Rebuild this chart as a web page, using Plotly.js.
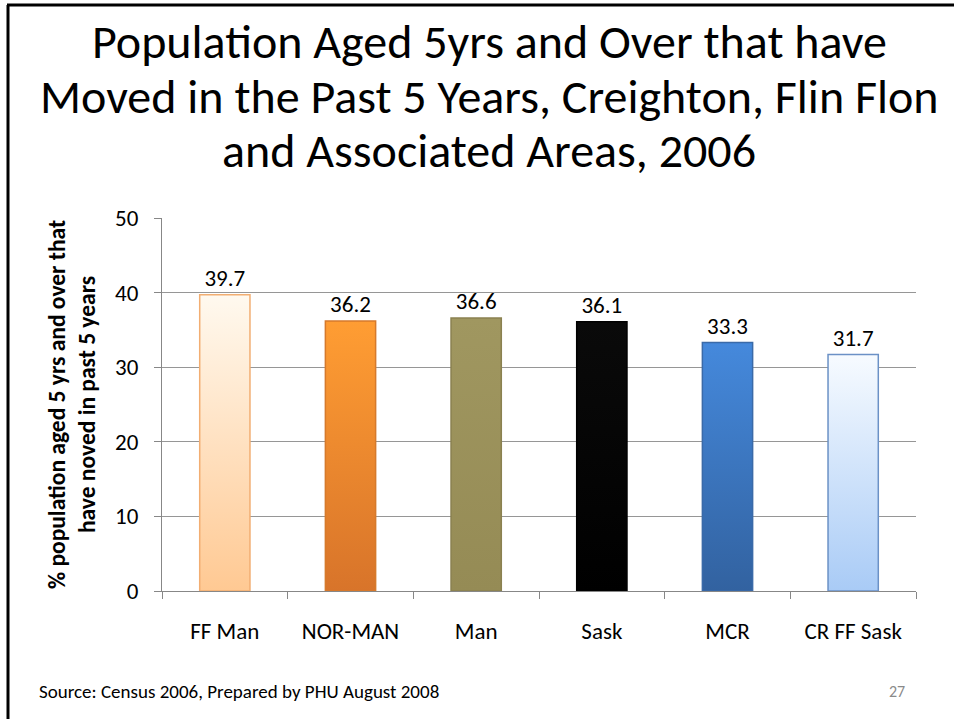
<!DOCTYPE html>
<html>
<head>
<meta charset="utf-8">
<script src="https://cdn.plot.ly/plotly-3.0.1.min.js"></script>
<style>
  html, body { margin: 0; padding: 0; background: #ffffff; }
  #chart { width: 954px; height: 719px; }
</style>
</head>
<body>
<div id="chart"></div>
<script>
// Areas compared and the share of residents aged 5+ who moved in the last 5 years
const areas = ["FF Man", "NOR-MAN", "Man", "Sask", "MCR", "CR FF Sask"];
const movedPct = [39.7, 36.2, 36.6, 36.1, 33.3, 31.7];
const yTicks = [0, 10, 20, 30, 40, 50];
const titleLines = [
  "Population Aged 5yrs and Over that have",
  "Moved in the Past 5 Years, Creighton, Flin Flon",
  "and Associated Areas, 2006"
];

// Per-bar fill gradients (top colour, bottom colour) and outline colours
const barTop = ["#fff9ef", "#ff9d33", "#a09760", "#0a0a0a", "#4589dc", "#f7fbff"];
const barBottom = ["#ffc993", "#d8742a", "#958b55", "#000000", "#3262a0", "#a9cbf6"];
const barEdge = ["#f2ae72", "#d67a2c", "#8a8150", "#000000", "#3a6aa8", "#6b91c6"];

const FONT = "Carlito, Calibri, 'Liberation Sans Narrow', sans-serif";

const W = 954, H = 719;
const M = { l: 162, r: 38, t: 218, b: 128 };
const pw = W - M.l - M.r, ph = H - M.t - M.b;
const px2x = (x) => (x - M.l) / pw;
const px2y = (y) => (H - M.b - y) / ph;

const trace = {
  type: "bar",
  x: areas,
  y: movedPct,
  width: 0.4,
  marker: { color: barBottom, line: { color: barEdge, width: 1.5 } },
  text: movedPct.map(v => v.toFixed(1)),
  textposition: "outside",
  textfont: { family: FONT, size: 23, color: "#000000" },
  cliponaxis: false,
  hoverinfo: "skip"
};

// three-line slide heading, each line centred on the same vertical axis
const titleY = [42, 96, 150];
const titleAnnotations = titleLines.map(function (line, i) {
  return {
    text: line, xref: "paper", yref: "paper",
    x: px2x(489), y: px2y(titleY[i]), xanchor: "center", yanchor: "middle",
    showarrow: false, font: { family: FONT, size: 48, color: "#000000" }
  };
});

const layout = {
  width: W,
  height: H,
  margin: M,
  paper_bgcolor: "#ffffff",
  plot_bgcolor: "#ffffff",
  showlegend: false,
  font: { family: FONT, color: "#000000" },
  xaxis: {
    type: "category",
    range: [-0.5, 5.5],
    showline: true,
    linecolor: "#878787",
    linewidth: 1,
    ticks: "outside",
    tickson: "boundaries",
    ticklen: 7,
    tickcolor: "#878787",
    ticklabelstandoff: 19,
    tickfont: { family: FONT, size: 23, color: "#000000" },
    showgrid: false,
    zeroline: false,
    fixedrange: true
  },
  yaxis: {
    range: [0, 50],
    tickvals: yTicks,
    ticktext: yTicks.map(String),
    showline: true,
    linecolor: "#878787",
    linewidth: 1,
    ticks: "outside",
    ticklen: 7,
    tickcolor: "#878787",
    ticklabelstandoff: 11,
    tickfont: { family: FONT, size: 23, color: "#000000" },
    showgrid: true,
    gridcolor: "#969696",
    gridwidth: 1,
    zeroline: false,
    automargin: false,
    fixedrange: true,
    title: {
      text: "<b>% population aged 5 yrs and over that<br>have noved in past 5 years</b>",
      font: { family: FONT, size: 23.5, color: "#000000" },
      standoff: 12
    }
  },
  shapes: [
    // slide frame: left and top edges
    { type: "line", xref: "paper", yref: "paper", x0: px2x(8), x1: px2x(8), y0: px2y(5), y1: px2y(H + 2),
      line: { color: "#000000", width: 3 } },
    { type: "line", xref: "paper", yref: "paper", x0: px2x(7), x1: px2x(W + 2), y0: px2y(5), y1: px2y(5),
      line: { color: "#000000", width: 3 } }
  ],
  annotations: titleAnnotations.concat([
    { text: "Source: Census 2006, Prepared by PHU August 2008", xref: "paper", yref: "paper",
      x: px2x(37), y: px2y(691), xanchor: "left", yanchor: "middle", showarrow: false,
      font: { family: FONT, size: 19, color: "#000000" } },
    { text: "27", xref: "paper", yref: "paper",
      x: px2x(907), y: px2y(691), xanchor: "right", yanchor: "middle", showarrow: false,
      font: { family: FONT, size: 16, color: "#8a8a8a" } }
  ])
};

Plotly.newPlot("chart", [trace], layout, { displayModeBar: false, staticPlot: true }).then(function (gd) {
  // vertical gradient fills for the bars
  const svg = gd.querySelector(".main-svg");
  const ns = "http://www.w3.org/2000/svg";
  let defs = svg.querySelector("defs");
  if (!defs) { defs = document.createElementNS(ns, "defs"); svg.insertBefore(defs, svg.firstChild); }
  barTop.forEach(function (top, i) {
    const g = document.createElementNS(ns, "linearGradient");
    g.setAttribute("id", "barfill" + i);
    g.setAttribute("x1", "0"); g.setAttribute("y1", "0");
    g.setAttribute("x2", "0"); g.setAttribute("y2", "1");
    [[0, top], [1, barBottom[i]]].forEach(function (s) {
      const stop = document.createElementNS(ns, "stop");
      stop.setAttribute("offset", String(s[0]));
      stop.setAttribute("stop-color", s[1]);
      g.appendChild(stop);
    });
    defs.appendChild(g);
  });
  gd.querySelectorAll(".barlayer .point path").forEach(function (p, i) {
    p.style.fill = "url(#barfill" + i + ")";
  });
});
</script>
</body>
</html>
